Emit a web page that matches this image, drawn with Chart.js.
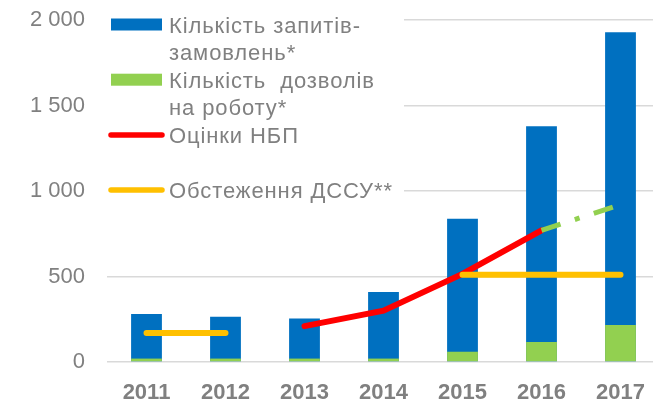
<!DOCTYPE html>
<html>
<head>
<meta charset="utf-8">
<script src="https://cdn.jsdelivr.net/npm/chart.js@4.4.1/dist/chart.umd.min.js"></script>
<style>
html, body { margin: 0; padding: 0; background: #fff; overflow: hidden; }
#wrap { width: 660px; height: 401px; }
</style>
</head>
<body>
<div id="wrap"><canvas id="mycanvas" width="660" height="401"></canvas></div>
<script>
var years = ['2011', '2012', '2013', '2014', '2015', '2016', '2017'];
var requests = [280, 265, 255, 410, 838, 1378, 1928];
var permits = [20, 20, 20, 20, 60, 117, 217];
var nbuEstimates = [null, null, 210, 300, 515, 770, null];
var nbuForecast = [null, null, null, null, null, 770, 920];
var dssuSurvey = [170, 170, null, null, 510, 510, 510];
var yTicks = [0, 500, 1000, 1500, 2000];
var yTickLabels = ['0', '500', '1 000', '1 500', '2 000'];
var legendLines = [
	['Кількість запитів-', 'замовлень*'],
	['Кількість  дозволів', 'на роботу*'],
	['Оцінки НБП'],
	['Обстеження ДССУ**']
];

var gray = '#808080';
var font = '"Liberation Sans", Arial, sans-serif';

// legend drawn by hand: white box over the grid, swatch + wrapped text
var sideLegend = {
	id: 'sideLegend',
	beforeDatasetsDraw: function(chart) {
		var ctx = chart.ctx;
		ctx.save();
		ctx.fillStyle = '#fff';
		ctx.fillRect(104, 0, 300, 206);
		ctx.font = '22px ' + font;
		ctx.letterSpacing = '0.9px';
		ctx.textBaseline = 'alphabetic';
		for (var i = 0; i < legendLines.length; i++) {
			var ds = chart.data.datasets[i];
			var base = 32.5 + i * 2 * 27.6;
			if (i == 3) base = 32.5 + 6 * 27.6;
			var cy = base - 8;
			if (ds.type == 'bar') {
				ctx.fillStyle = ds.backgroundColor;
				ctx.fillRect(111, cy - 6, 51, 12);
			} else {
				ctx.strokeStyle = ds.borderColor;
				ctx.lineWidth = 5.5;
				ctx.lineCap = 'round';
				ctx.beginPath();
				ctx.moveTo(111, cy);
				ctx.lineTo(162, cy);
				ctx.stroke();
			}
			ctx.fillStyle = gray;
			for (var j = 0; j < legendLines[i].length; j++) {
				ctx.fillText(legendLines[i][j], 169, base + j * 27.6);
			}
		}
		ctx.restore();
	}
};

var ctx = document.getElementById('mycanvas');

var chart = new Chart(ctx, {
	data: {
		labels: years,
		datasets: [
			{
				type: 'bar',
				label: legendLines[0].join(''),
				data: requests,
				backgroundColor: '#0070C0',
				grouped: false,
				order: 3
			},
			{
				type: 'bar',
				label: legendLines[1].join(' '),
				data: permits,
				backgroundColor: '#92D050',
				grouped: false,
				order: 2
			},
			{
				type: 'line',
				label: legendLines[2][0],
				data: nbuEstimates,
				borderColor: '#FF0000',
				borderWidth: 6,
				borderCapStyle: 'round',
				pointRadius: 0,
				tension: 0,
				order: 1
			},
			{
				type: 'line',
				label: legendLines[3][0],
				data: dssuSurvey,
				borderColor: '#FFC000',
				borderWidth: 6,
				borderCapStyle: 'round',
				pointRadius: 0,
				tension: 0,
				order: 0
			},
			{
				type: 'line',
				label: 'Оцінки НБП (прогноз)',
				data: nbuForecast,
				borderColor: '#92D050',
				borderWidth: 5,
				borderDash: [20, 15, 5, 15],
				pointRadius: 0,
				tension: 0,
				order: 0
			}
		]
	},
	options: {
		responsive: false,
		animation: false,
		layout: { padding: { top: 20, right: 0, bottom: 0, left: 0 } },
		datasets: {
			bar: { barPercentage: 0.39, categoryPercentage: 1 }
		},
		plugins: {
			legend: { display: false },
			tooltip: { enabled: false }
		},
		scales: {
			x: {
				grid: { display: false },
				border: { display: false },
				ticks: {
					color: gray,
					font: { family: font, size: 22, weight: 'bold' },
					padding: 10
				},
				afterFit: function(s) { s.height = 39; }
			},
			y: {
				min: 0,
				max: 2000,
				border: { display: false },
				grid: { color: '#d9d9d9', lineWidth: 1.5, drawTicks: false },
				afterBuildTicks: function(axis) {
					axis.ticks = yTicks.map(function(v) { return { value: v }; });
				},
				ticks: {
					color: gray,
					font: { family: font, size: 22 },
					padding: 22,
					callback: function(value) { return yTickLabels[yTicks.indexOf(value)]; }
				},
				afterFit: function(s) {
					s.width = 107;
					s.paddingTop = 0;
					s.paddingBottom = 0;
				}
			}
		}
	},
	plugins: [sideLegend]
});
</script>
</body>
</html>
